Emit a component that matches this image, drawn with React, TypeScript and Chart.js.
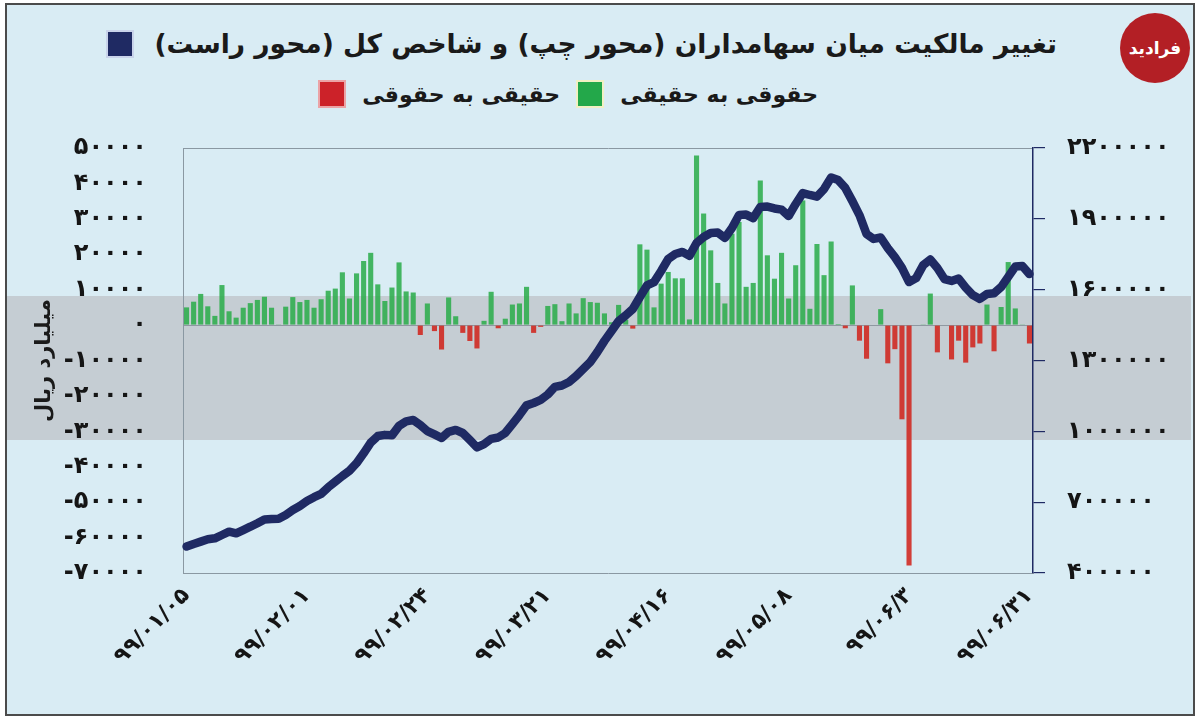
import React, { useEffect, useRef } from "react";
import Chart from "chart.js/auto";
import type { Chart as ChartJS } from "chart.js";

// net ownership change, billion rials (left axis)
const netFlow = [
  5000, 6600, 8800, 5300, 2600, 11300, 3900, 2100, 4900, 6200, 7100, 8000, 4900, 200, 5200, 7900,
  6500, 7100, 4900, 7300, 9700, 10300, 14900, 7500, 14600, 18100, 20400, 11500, 6800, 10600, 17700, 9500,
  9200, -2800, 6100, -1700, -6900, 7800, 2500, -2200, -4500, -6600, 1200, 9400, -900, 1800, 5800, 6100,
  10800, -2200, -500, 5400, 5900, 1100, 6100, 3300, 7600, 6500, 6300, 3300, 800, 5700, 1500, -1000,
  22800, 21300, 5000, 11700, 15000, 13200, 13200, 1600, 47900, 31500, 21100, 11900, 6100, 25800, 29100, 10800,
  11900, 40800, 19700, 13100, 20400, 7500, 16900, 35200, 4600, 22900, 14100, 23600, 300, -900, 11200, -4400,
  -9500, 0, 4500, -10800, -6800, -26600, -67900, 0, 200, 8900, -7700, 0, -9700, -4400, -10600, -6300,
  -5200, 5800, -7400, 5100, 17800, 4700, 200, -5200,
];

// total index (right axis)
const totalIndex = [
  512000, 523000, 533000, 543000, 547000, 561000, 575000, 568000, 582000, 596000,
  611000, 627000, 629000, 630000, 646000, 667000, 684000, 705000, 721000, 735000,
  763000, 787000, 811000, 833000, 865000, 907000, 952000, 980000, 985000, 983000,
  1023000, 1042000, 1048000, 1027000, 1001000, 987000, 972000, 998000, 1006000, 993000,
  963000, 932000, 946000, 968000, 974000, 993000, 1031000, 1069000, 1110000, 1120000,
  1133000, 1156000, 1188000, 1194000, 1209000, 1234000, 1264000, 1294000, 1336000, 1383000,
  1425000, 1467000, 1491000, 1518000, 1569000, 1618000, 1632000, 1679000, 1730000, 1751000,
  1760000, 1743000, 1798000, 1823000, 1840000, 1842000, 1819000, 1861000, 1916000, 1918000,
  1903000, 1950000, 1952000, 1944000, 1939000, 1912000, 1963000, 2009000, 2001000, 1994000,
  2026000, 2075000, 2064000, 2031000, 1975000, 1916000, 1836000, 1815000, 1821000, 1776000,
  1738000, 1692000, 1632000, 1649000, 1704000, 1728000, 1692000, 1645000, 1637000, 1647000,
  1609000, 1577000, 1561000, 1582000, 1585000, 1611000, 1654000, 1698000, 1700000, 1666000,
];

// date labels shown every 17 trading days
const dateTicks = ["۹۹/۰۱/۰۵", "۹۹/۰۲/۰۱", "۹۹/۰۲/۲۴", "۹۹/۰۳/۲۱", "۹۹/۰۴/۱۶", "۹۹/۰۵/۰۸", "۹۹/۰۶/۳", "۹۹/۰۶/۳۱"];
const tickEvery = 17;
const days = netFlow.map((_, i) => String(i + 1));

const titleText = "تغییر مالکیت میان سهامداران (محور چپ) و شاخص کل (محور راست)";
const legalToReal = "حقوقی به حقیقی";
const realToLegal = "حقیقی به حقوقی";
const axisTitle = "میلیارد ریال";

const NAVY = "#1f2a63";
const GREEN = "rgba(40,172,72,0.85)";
const RED = "rgba(208,38,30,0.88)";
const FONT = "'DejaVu Sans', sans-serif";

const fa = (v: number | string) => String(v).replace(/\d/g, (d) => "۰۱۲۳۴۵۶۷۸۹"[Number(d)]);

const Swatch: React.FC<{ color: string; edge: string }> = ({ color, edge }) => (
  <span style={{ width: 24, height: 24, background: color, border: `2px solid ${edge}`, display: "inline-block" }} />
);

const App: React.FC = () => {
  const canvasRef = useRef<HTMLCanvasElement | null>(null);
  const chartRef = useRef<ChartJS | null>(null);

  useEffect(() => {
    const canvas = canvasRef.current;
    if (!canvas) return;
    const ctx = canvas.getContext("2d");
    if (!ctx) return;

    chartRef.current = new Chart(ctx, {
      type: "bar",
      data: {
        labels: days,
        datasets: [
          {
            type: "line",
            data: totalIndex,
            yAxisID: "yRight",
            borderColor: NAVY,
            borderWidth: 8.5,
            pointRadius: 0,
            tension: 0,
            borderJoinStyle: "round",
            borderCapStyle: "round",
            order: 0,
          },
          {
            type: "bar",
            data: netFlow,
            yAxisID: "yLeft",
            backgroundColor: netFlow.map((v) => (v >= 0 ? GREEN : RED)),
            barPercentage: 0.72,
            categoryPercentage: 1,
            order: 1,
          },
        ],
      },
      options: {
        responsive: false,
        animation: false,
        layout: { padding: { top: 148, left: 0, right: 0, bottom: 0 } },
        plugins: {
          legend: { display: false },
          tooltip: { enabled: false },
          title: { display: false },
        },
        scales: {
          x: {
            offset: true,
            grid: { display: false },
            border: { display: true, color: "#8a98a2", width: 1 },
            ticks: {
              autoSkip: false,
              minRotation: 45,
              maxRotation: 45,
              padding: 2,
              color: "#151515",
              font: { family: FONT, size: 22, weight: "bold" },
              callback: (_v, i) => (i % tickEvery === 0 ? dateTicks[i / tickEvery] : ""),
            },
            afterFit: (s) => {
              s.height = 145;
            },
          },
          yLeft: {
            position: "left",
            min: -70000,
            max: 50000,
            ticks: {
              stepSize: 10000,
              padding: 36,
              color: "#151515",
              font: { family: FONT, size: 24, weight: "bold" },
              callback: (v) => fa(v),
            },
            grid: {
              drawTicks: false,
              color: (c) =>
                c.tick && c.tick.value === 50000 ? "#8a98a2" : c.tick && c.tick.value === 0 ? "rgba(120,130,140,0.7)" : "transparent",
            },
            border: { display: true, color: "#8a98a2", width: 1 },
            title: {
              display: true,
              text: axisTitle,
              color: "#1a1a1a",
              font: { family: FONT, size: 21, weight: "bold" },
              padding: { top: 32, bottom: 0 },
            },
            afterFit: (s) => {
              s.width = 183;
            },
          },
          yRight: {
            position: "right",
            min: 400000,
            max: 2200000,
            ticks: {
              stepSize: 300000,
              padding: 22,
              color: "#151515",
              font: { family: FONT, size: 24, weight: "bold" },
              callback: (v) => fa(v),
            },
            grid: { drawOnChartArea: false, drawTicks: true, tickLength: 12, color: NAVY, lineWidth: 1.2 },
            border: { display: true, color: NAVY, width: 1.5 },
            afterFit: (s) => {
              s.width = 167;
            },
          },
        },
      },
    });

    return () => {
      chartRef.current?.destroy();
      chartRef.current = null;
    };
  }, []);

  return (
    <div style={{ position: "fixed", left: 0, top: 0, width: 1200, height: 718, background: "#fff", overflow: "hidden" }}>
      <div
        style={{
          position: "absolute",
          left: 5,
          top: 3,
          width: 1186,
          height: 709,
          border: "2px solid #4b4b4b",
          background: "#d9ecf4",
        }}
      />
      <div style={{ position: "absolute", left: 7, right: 9, top: 296, height: 144, background: "#c5cdd3" }} />
      <div
        style={{
          position: "absolute",
          left: 1120,
          top: 13,
          width: 70,
          height: 70,
          borderRadius: "50%",
          background: "#b31f25",
          color: "#fff",
          fontFamily: FONT,
          fontWeight: "bold",
          fontSize: 17,
          display: "flex",
          alignItems: "center",
          justifyContent: "center",
          direction: "rtl",
        }}
      >
        فرادید
      </div>
      <div
        style={{
          position: "absolute",
          right: 143,
          top: 28,
          display: "flex",
          alignItems: "center",
          gap: 20,
          direction: "rtl",
          fontFamily: FONT,
          fontWeight: "bold",
          fontSize: 26.5,
          color: "#1a1a1a",
        }}
      >
        <span>{titleText}</span>
        <Swatch color={NAVY} edge="#c9d3ea" />
      </div>
      <div
        style={{
          position: "absolute",
          right: 382,
          top: 80,
          display: "flex",
          alignItems: "center",
          gap: 16,
          direction: "rtl",
          fontFamily: FONT,
          fontWeight: "bold",
          fontSize: 22,
          color: "#1a1a1a",
        }}
      >
        <span>{legalToReal}</span>
        <Swatch color="#23a84a" edge="#f1f0c4" />
        <span>{realToLegal}</span>
        <Swatch color="#cc2229" edge="#eba3a6" />
      </div>
      <canvas ref={canvasRef} width={1200} height={718} style={{ position: "absolute", left: 0, top: 0, width: 1200, height: 718 }} />
    </div>
  );
};

export default App;
